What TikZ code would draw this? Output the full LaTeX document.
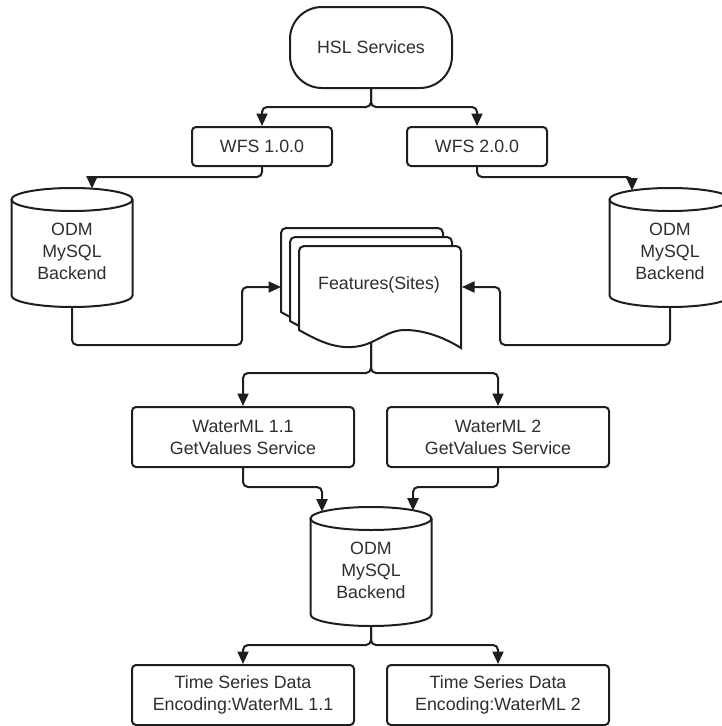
\documentclass[tikz,border=0pt]{standalone}
\usepackage{fontspec}
\setmainfont{Liberation Sans}
\usetikzlibrary{arrows.meta,calc}
\definecolor{ink}{HTML}{1E1E1E}
\definecolor{txt}{HTML}{2E2E2E}
\tikzset{
  shapeline/.style={draw=ink, line width=2pt},
  box/.style={shapeline, rounded corners=4pt, fill=white, text=txt, align=center,
    inner sep=0pt, font=\fontsize{17.8}{22}\selectfont},
  dbtext/.style={text=txt, align=center, inner sep=0pt, font=\fontsize{17.8}{22}\selectfont},
  conn/.style={draw=ink, line width=2pt, rounded corners=5pt,
    -{Triangle[length=12.5pt,width=11pt]}},
}
\newcommand{\dbcyl}[2]{%
  \node[dbtext] (#1) at #2 {ODM\\MySQL\\Backend};
  \coordinate (#1-top) at ([yshift=63pt]#1.center);
  \coordinate (#1-bot) at ([yshift=-56pt]#1.center);
  \draw[shapeline] ([shift={(-60.5pt,-11.5pt)}]#1-top) -- ([shift={(-60.5pt,11.5pt)}]#1-bot)
    arc[start angle=180,end angle=360,x radius=60.5pt,y radius=11.5pt]
    -- ([shift={(60.5pt,-11.5pt)}]#1-top);
  \draw[shapeline] ([yshift=-11.5pt]#1-top) ellipse[x radius=60.5pt,y radius=11.5pt];
}
\newcommand{\docsheet}[2]{%
  \begin{scope}[shift={(#1,#2)}]
  \filldraw[shapeline, fill=white]
    (299,-330) [rounded corners=5pt] -- (299,-246) -- (461,-246) [sharp corners] -- (461,-348)
    .. controls (445,-338) and (425,-330) .. (405,-330)
    .. controls (385,-330) and (375,-346) .. (352,-347)
    .. controls (335,-348) and (320,-342) .. (299,-330) -- cycle;
  \end{scope}
}
\begin{document}
\begin{tikzpicture}[x=1pt,y=1pt]
\useasboundingbox (0,0) rectangle (721,-726);

% top
\node[box, rounded corners=32pt, minimum width=162pt, minimum height=81pt] (hsl) at (371,-47.5) {HSL Services};
\node[box, minimum width=140pt, minimum height=39pt] (wfs1) at (262,-146.5) {WFS 1.0.0};
\node[box, minimum width=140pt, minimum height=39pt] (wfs2) at (477,-146.5) {WFS 2.0.0};

% databases
\dbcyl{db1}{(72,-251)}
\dbcyl{db3}{(670,-251)}
\dbcyl{db2}{(371,-570)}

% features stack
\docsheet{-18}{18}
\docsheet{-9}{9}
\docsheet{0}{0}
\node[dbtext] (feat) at (379,-285) {Features(Sites)};
\coordinate (featL) at (281,-287);
\coordinate (featR) at (462,-287);
\coordinate (featbot) at (371,-342);

% middle boxes
\node[box, minimum width=222pt, minimum height=60pt] (wml1) at (243,-437) {WaterML 1.1\\GetValues Service};
\node[box, minimum width=222pt, minimum height=60pt] (wml2) at (498,-437) {WaterML 2\\GetValues Service};

% bottom boxes
\node[box, minimum width=222pt, minimum height=60pt] (ts1) at (243,-695) {Time Series Data\\Encoding:WaterML 1.1};
\node[box, minimum width=222pt, minimum height=60pt] (ts2) at (498,-695) {Time Series Data\\Encoding:WaterML 2};

% junctions and entry points
\coordinate (j1) at (371,-107);
\coordinate (j2) at (262,-177);
\coordinate (j3) at (477,-177);
\coordinate (db1in) at (92,-188.6);
\coordinate (db3in) at (632,-190.5);
\coordinate (c1) at (242,-345);
\coordinate (c2) at (500,-345);
\coordinate (j4) at (371,-373);
\coordinate (j5) at (243,-487);
\coordinate (j6) at (498,-487);
\coordinate (db2inL) at (322,-511.7);
\coordinate (db2inR) at (413,-510.7);
\coordinate (j7) at (371,-645);

% connectors
\draw[conn] (hsl.south) -- (j1) -| (wfs1.north);
\draw[conn] (hsl.south) -- (j1) -| (wfs2.north);
\draw[conn] (wfs1.south) -- (j2) -| (db1in);
\draw[conn] (wfs2.south) -- (j3) -| (db3in);
\draw[conn] (db1-bot) |- (c1) |- (featL);
\draw[conn] (db3-bot) |- (c2) |- (featR);
\draw[conn] (featbot) -- (j4) -| (wml1.north);
\draw[conn] (featbot) -- (j4) -| (wml2.north);
\draw[conn] (wml1.south) -- (j5) -| (db2inL);
\draw[conn] (wml2.south) -- (j6) -| (db2inR);
\draw[conn] (db2-bot) -- (j7) -| (ts1.north);
\draw[conn] (db2-bot) -- (j7) -| (ts2.north);
\end{tikzpicture}
\end{document}
